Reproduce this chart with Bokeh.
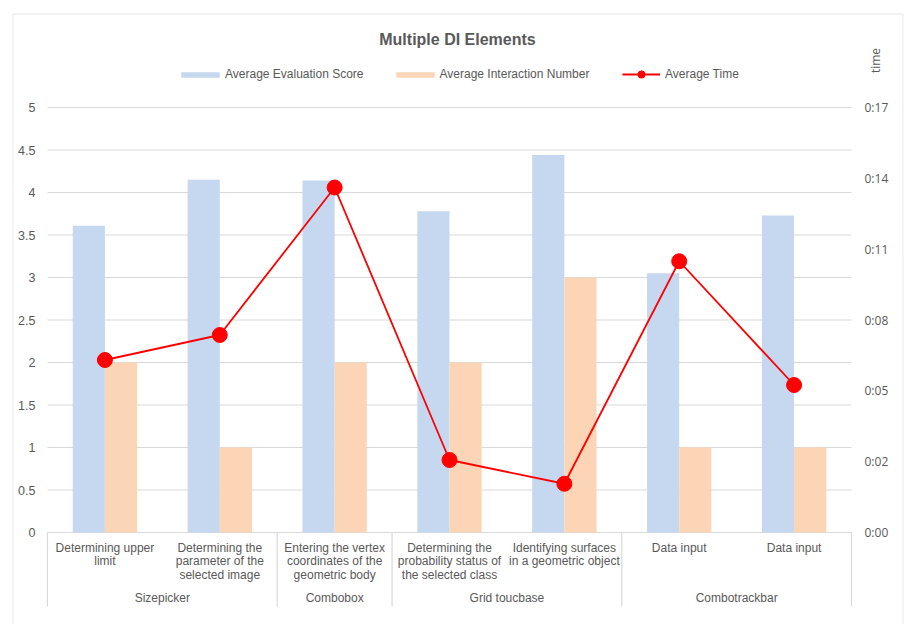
import math
from bokeh.plotting import figure
from bokeh.models import (Range1d, Legend, LegendItem, Label, ColumnDataSource, BoxAnnotation)
from bokeh.core.properties import value
from bokeh.transform import dodge
from bokeh.embed import file_html
from bokeh.resources import INLINE

# ---------------- data ----------------
categories = [
    "Determining upper\nlimit",
    "Determining the\nparameter of the\nselected image",
    "Entering the vertex\ncoordinates of the\ngeometric body",
    "Determining the\nprobability status of\nthe selected class",
    "Identifying surfaces\nin a geometric object",
    "Data input",
    "Data input",
]
groups = ["Sizepicker", "Sizepicker", "Combobox", "Grid toucbase", "Grid toucbase",
          "Combotrackbar", "Combotrackbar"]
eval_score = [3.61, 4.15, 4.14, 3.78, 4.44, 3.05, 3.73]
interaction_number = [2, 1, 2, 2, 3, 1, 1]
avg_time = [6.9, 7.9, 13.8, 2.9, 1.95, 10.85, 5.9]   # seconds

score_ticks = [0, 0.5, 1, 1.5, 2, 2.5, 3, 3.5, 4, 4.5, 5]
score_tick_labels = ["0", "0.5", "1", "1.5", "2", "2.5", "3", "3.5", "4", "4.5", "5"]
time_max = 17
time_tick_labels = ["0:00", "0:02", "0:05", "0:08", "0:11", "0:14", "0:17"]

title = "Multiple DI Elements"
series_names = ["Average Evaluation Score", "Average Interaction Number", "Average Time"]
time_axis_title = "time"

# ---------------- layout (pixels) ----------------
W, H = 909, 624
plot_left, plot_right = 47, 851
plot_top, zero_px, cat_bottom = 107, 532, 606
score_max = 5

GRAY_TEXT = "#595959"
GRID = "#d9d9d9"
BLUE = "#c6d8f0"
ORANGE = "#fbd5b5"
RED = "#ff0000"

n = len(categories)
cat_w = (plot_right - plot_left) / n
px_per_unit = (zero_px - plot_top) / score_max
x_range = Range1d(-plot_left / cat_w, n + (W - plot_right) / cat_w)
y_start = -(H - zero_px) / px_per_unit
y_end = score_max + plot_top / px_per_unit
y_sep = -(cat_bottom - zero_px) / px_per_unit
t_scale = time_max / score_max

centers = [i + 0.5 for i in range(n)]
src = ColumnDataSource(dict(x=centers, label=categories, score=eval_score,
                            inter=interaction_number, t=avg_time))

bounds = [0]
for i in range(1, n):
    if groups[i] != groups[i - 1]:
        bounds.append(i)
bounds.append(n)
group_names = [groups[b] for b in bounds[:-1]]
group_centers = [(bounds[k] + bounds[k + 1]) / 2 for k in range(len(bounds) - 1)]

p = figure(width=W, height=H, output_backend="svg", toolbar_location=None,
           x_range=x_range, y_range=Range1d(y_start, y_end),
           x_axis_location=None, y_axis_location=None, min_border=0)
p.min_border_left = p.min_border_right = p.min_border_top = p.min_border_bottom = 0
p.outline_line_color = None
p.background_fill_color = "white"
p.border_fill_color = "white"
p.xgrid.visible = False
p.ygrid.visible = False
p.extra_y_ranges = {"time": Range1d(y_start * t_scale, y_end * t_scale)}

# chart border
p.add_layout(BoxAnnotation(left=12.5, right=902.5, top=13.5, bottom=700,
                           left_units="canvas", right_units="canvas",
                           top_units="canvas", bottom_units="canvas",
                           fill_alpha=0, line_color="#c9c9c9", line_width=1.3, level="underlay"))

# value gridlines (score axis)
p.segment(x0=[0] * len(score_ticks), x1=[n] * len(score_ticks), y0=score_ticks, y1=score_ticks,
          line_color=GRID, line_width=1, level="underlay")

# left axis tick labels
p.text(x=[0] * len(score_ticks), y=score_ticks, text=score_tick_labels, x_offset=-12,
       text_align="right", text_baseline="middle", text_font=value("Liberation Sans"),
       text_font_size="12.5px", text_color=GRAY_TEXT)

# right (time) axis tick labels
time_ticks = [time_max * i / (len(time_tick_labels) - 1) for i in range(len(time_tick_labels))]
p.text(x=[n] * len(time_ticks), y=time_ticks, text=time_tick_labels, x_offset=13,
       y_range_name="time", text_align="left", text_baseline="middle",
       text_font=value("Open Sans"), text_font_size="12px", text_color=GRAY_TEXT)

# bars
bw = 0.28
r_blue = p.vbar(x=dodge("x", -bw / 2, range=p.x_range), top="score", bottom=0, width=bw,
                source=src, fill_color=BLUE, line_color=None)
r_orange = p.vbar(x=dodge("x", bw / 2, range=p.x_range), top="inter", bottom=0, width=bw,
                  source=src, fill_color=ORANGE, line_color=None)

# line
r_line = p.line(x="x", y="t", source=src, y_range_name="time", line_color=RED, line_width=1.8)
r_dots = p.scatter(x="x", y="t", source=src, y_range_name="time", size=15,
                   fill_color=RED, line_color=RED)

# category axis: separators and labels
p.segment(x0=bounds, y0=[0] * len(bounds), x1=bounds, y1=[y_sep] * len(bounds),
          line_color=GRID, line_width=1.2)
p.text(x="x", y=0, text="label", source=src, y_offset=8, text_align="center",
       text_baseline="top", text_font=value("Liberation Sans"), text_font_size="12px",
       text_color=GRAY_TEXT, text_line_height=0.99)
p.text(x=group_centers, y=[0] * len(group_centers), text=group_names, y_offset=65,
       text_align="center", text_baseline="middle", text_font=value("Liberation Sans"),
       text_font_size="12px", text_color=GRAY_TEXT)

# title
p.add_layout(Label(x=457, y=H - 39, x_units="screen", y_units="screen",
                   text=title, text_align="center", text_baseline="middle",
                   text_font="Liberation Sans", text_font_style="bold", text_font_size="16px",
                   text_color=GRAY_TEXT))
# time axis title
p.add_layout(Label(x=875, y=H - 60, x_units="screen", y_units="screen",
                   text=time_axis_title, angle=math.pi / 2, text_align="center",
                   text_baseline="middle", text_font="Open Sans", text_font_size="12px",
                   text_color=GRAY_TEXT))

# legends
leg_common = dict(orientation="horizontal", padding=0, margin=0, border_line_color=None,
                  background_fill_alpha=0, label_text_font="Liberation Sans",
                  label_text_font_size="12px", label_text_color=GRAY_TEXT, label_height=14)
legA = Legend(items=[LegendItem(label=series_names[0], renderers=[r_blue]),
                     LegendItem(label=series_names[1], renderers=[r_orange])],
              location=(176, H - 74 - 7), glyph_width=48, glyph_height=7,
              label_standoff=1, spacing=27, **leg_common)
legB = Legend(items=[LegendItem(label=series_names[2], renderers=[r_line, r_dots])],
              location=(622, H - 74 - 9), glyph_width=38, glyph_height=18,
              label_standoff=5, spacing=0, **leg_common)
p.add_layout(legA)
p.add_layout(legB)

open("out.html", "w").write(file_html(p, INLINE))
